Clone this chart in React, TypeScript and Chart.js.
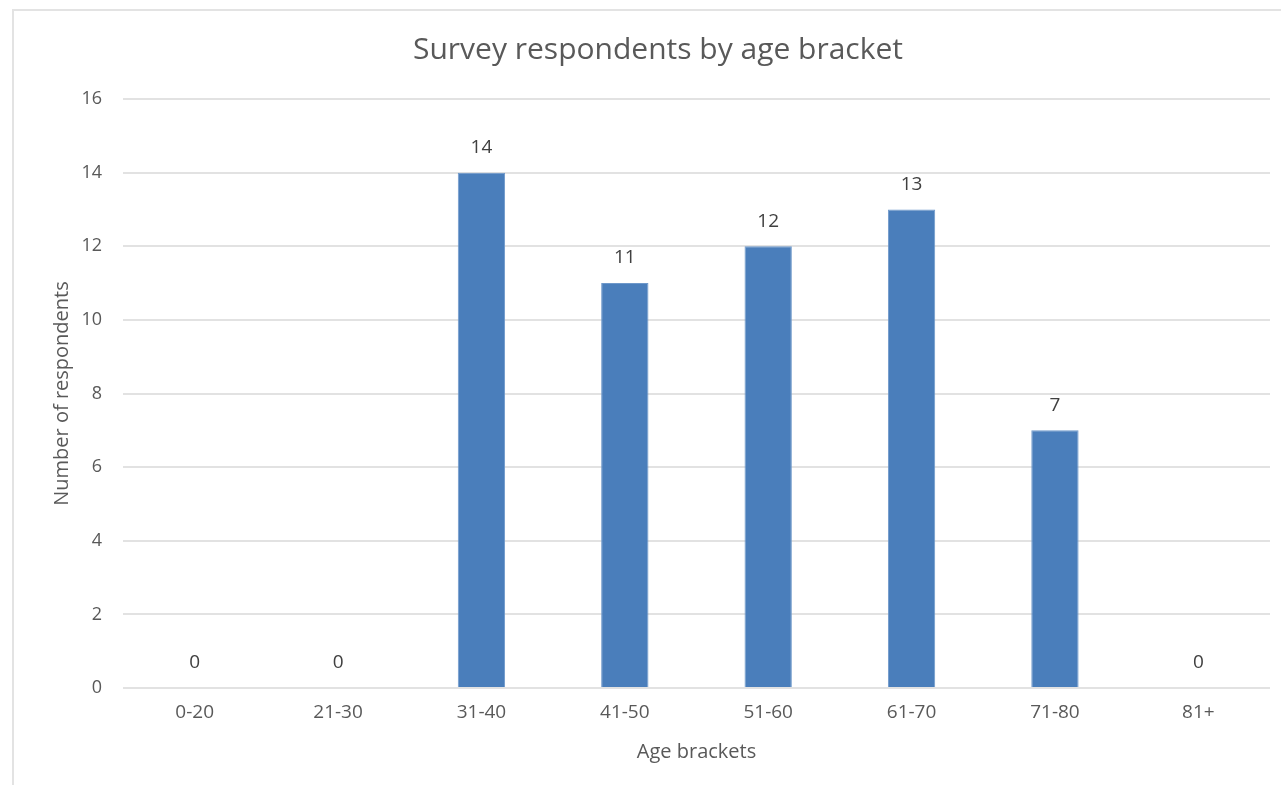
import React, { useEffect, useRef } from "react";
import { Chart, registerables } from "chart.js";

Chart.register(...registerables);

const ageBrackets = ["0-20", "21-30", "31-40", "41-50", "51-60", "61-70", "71-80", "81+"];
const respondents = [0, 0, 14, 11, 12, 13, 7, 0];

const FONT = "'Open Sans', 'Liberation Sans', sans-serif";
const TEXT = "#595959";

// Value labels above each bar
const barValueLabels = {
  id: "barValueLabels",
  afterDatasetsDraw(chart: any) {
    const { ctx } = chart;
    const meta = chart.getDatasetMeta(0);
    const values = chart.data.datasets[0].data as number[];
    ctx.save();
    ctx.font = `19px ${FONT}`;
    ctx.fillStyle = "#404040";
    ctx.textAlign = "center";
    ctx.textBaseline = "middle";
    meta.data.forEach((bar: any, i: number) => {
      ctx.fillText(String(values[i]), bar.x, bar.y - 25);
    });
    ctx.restore();
  },
};

// Thin frame around the chart
const chartFrame = {
  id: "chartFrame",
  beforeDraw(chart: any) {
    const { ctx, width, height } = chart;
    ctx.save();
    ctx.strokeStyle = "#e3e3e3";
    ctx.lineWidth = 2;
    ctx.beginPath();
    ctx.moveTo(13, height);
    ctx.lineTo(13, 10);
    ctx.lineTo(width, 10);
    ctx.stroke();
    ctx.restore();
  },
};

export default function App() {
  const canvasRef = useRef<HTMLCanvasElement | null>(null);

  useEffect(() => {
    if (!canvasRef.current) return;
    const chart = new Chart(canvasRef.current, {
      type: "bar",
      data: {
        labels: ageBrackets,
        datasets: [
          {
            label: "Respondents",
            data: respondents,
            backgroundColor: "#4a7ebb",
            borderColor: "#6e98ca",
            borderWidth: { left: 1, right: 1, top: 1, bottom: 0 },
            barPercentage: 0.33,
            categoryPercentage: 1,
          },
        ],
      },
      options: {
        animation: false,
        responsive: true,
        maintainAspectRatio: false,
        layout: { padding: { left: 46, right: 11, top: 0, bottom: 0 } },
        plugins: {
          legend: { display: false },
          tooltip: { enabled: false },
          title: {
            display: true,
            text: "Survey respondents by age bracket",
            color: TEXT,
            font: { family: FONT, size: 30, weight: "normal" },
            padding: { top: 32, bottom: 31 },
          },
        },
        scales: {
          x: {
            grid: { display: false, drawTicks: false },
            border: { display: false },
            ticks: { color: TEXT, font: { family: FONT, size: 19 }, padding: 13, maxRotation: 0 },
            title: {
              display: true,
              text: "Age brackets",
              color: TEXT,
              font: { family: FONT, size: 20 },
              padding: { top: 0, bottom: 21 },
            },
            afterFit(scale: any) {
              scale.height = 97;
            },
          },
          y: {
            min: 0,
            max: 16,
            ticks: { stepSize: 2, color: TEXT, font: { family: FONT, size: 18 }, padding: 21 },
            grid: { color: "#e2e2e2", lineWidth: 2, drawTicks: false },
            border: { display: false },
            title: {
              display: true,
              text: "Number of respondents",
              color: TEXT,
              font: { family: FONT, size: 20 },
              padding: { top: 4, bottom: 0 },
            },
            afterFit(scale: any) {
              scale.width = 77;
            },
          },
        },
      },
      plugins: [chartFrame, barValueLabels],
    });
    return () => chart.destroy();
  }, []);

  return (
    <div style={{ position: "fixed", left: 0, top: 0, width: 1281, height: 785, background: "#ffffff" }}>
      <canvas ref={canvasRef} />
    </div>
  );
}
